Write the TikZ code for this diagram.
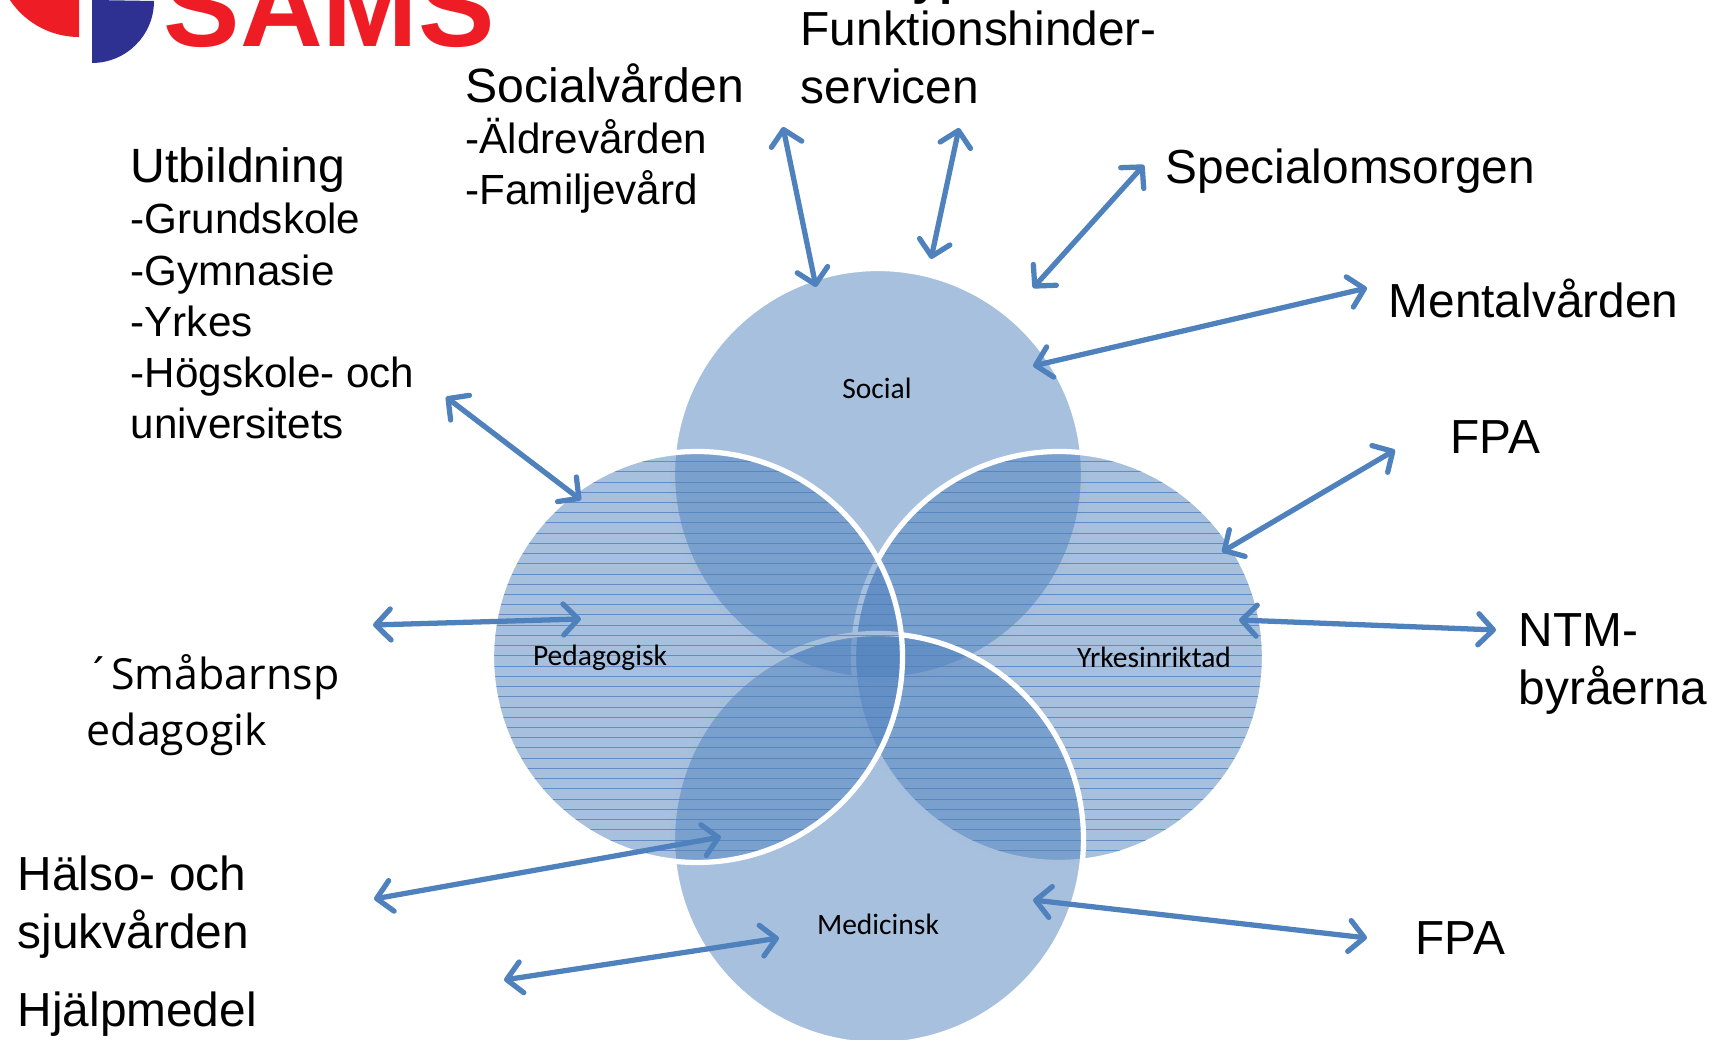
\documentclass[tikz,border=0pt]{standalone}
\usepackage{fontspec}
\setmainfont{Liberation Sans}
\newfontfamily\calfont{Carlito}
\newfontfamily\segfont{Open Sans}
\usetikzlibrary{arrows.meta,calc}
\definecolor{vennblue}{HTML}{4F81BD}
\definecolor{samsred}{HTML}{EE1C25}
\definecolor{samsblue}{HTML}{2E3192}

\begin{document}
\begin{tikzpicture}
\tikzset{venn/.style={circle,draw=white,line width=1.5pt,fill=vennblue,fill opacity=0.5,draw opacity=1,minimum size=4.11cm,inner sep=0pt,outer sep=0pt}}
\tikzset{hatched/.style={path picture={\foreach \n in {0,...,38} \draw[vennblue,line width=0.25pt,draw opacity=0.8] ([yshift={(1.955-0.1023*\n)*1cm}]path picture bounding box.west) -- ([yshift={(1.955-0.1023*\n)*1cm}]path picture bounding box.east);}}}
\tikzset{inlbl/.style={font=\calfont\fontsize{8.4}{9}\selectfont,inner sep=0pt}}
\tikzset{big/.style={font=\fontsize{13.6}{16.6}\selectfont,inner sep=0pt,anchor=base west,align=left}}
\tikzset{lst/.style={font=\fontsize{12}{14.6}\selectfont,inner sep=0pt,anchor=base west,align=left}}
\path[use as bounding box,clip] (0,0) rectangle (17.15,10.40);

% logo
\fill[samsred] (0.79,10.50) -- (0.79,10.03) arc[start angle=270,end angle=200,radius=0.83] -- cycle;
\fill[samsblue] (0.92,10.40) -- (0.92,9.77) arc[start angle=270,end angle=360,radius=0.62] -- cycle;
\node [inner sep=0pt,anchor=base west,text=samsred,font=\bfseries\fontsize{32.6}{36}\selectfont] (sams) at (1.63,9.93) {SAMS};

\node [venn] (social) at (8.78,5.66) {};
\node [venn,hatched] (yrkes) at (10.59,3.83) {};
\node [venn] (medicinsk) at (8.78,2.01) {};
\node [venn,hatched] (pedagogisk) at (6.97,3.83) {};

\node [inlbl] (l1) at (8.77,6.52) {Social};
\node [inlbl] (l2) at (6.00,3.82) {Pedagogisk};
\node [inlbl] (l3) at (11.54,3.83) {Yrkesinriktad};
\node [inlbl] (l4) at (8.78,1.16) {Medicinsk};

\node [big,font=\bfseries\fontsize{13.6}{16.6}\selectfont] (t0) at (9.12,10.45) {yp};
\node [big] (t1) at (8.00,9.36) {Funktionshinder-\\servicen};
\node [lst] (t2) at (4.65,8.35) {\fontsize{13.7}{14.6}\selectfont Socialvården\\-Äldrevården\\-Familjevård};
\node [lst] (t3) at (1.30,6.01) {\fontsize{13.7}{14.6}\selectfont Utbildning\\-Grundskole\\-Gymnasie\\-Yrkes\\-Högskole- och\\universitets};
\node [big] (t4) at (11.65,8.56) {Specialomsorgen};
\node [big] (t5) at (13.88,7.22) {Mentalvården};
\node [big] (t6) at (14.50,5.86) {FPA};
\node [big] (t7) at (15.18,3.35) {NTM-\\byråerna};
\node [big] (t8) at (14.15,0.85) {FPA};
\node [big,font=\segfont\fontsize{12.2}{16.2}\selectfont] (t9) at (0.86,2.94) {´Småbarnsp\\edagogik};
\node [big] (t10) at (0.17,0.91) {Hälso- och\\sjukvården};
\node [big] (t11) at (0.17,0.13) {Hjälpmedel};

\coordinate (a1) at (7.83,9.13);
\coordinate (b1) at (8.16,7.53);
\coordinate (a2) at (9.59,9.12);
\coordinate (b2) at (9.31,7.81);
\coordinate (a3) at (11.44,8.75);
\coordinate (b3) at (10.33,7.52);
\coordinate (a4) at (13.67,7.52);
\coordinate (b4) at (10.33,6.74);
\coordinate (a5) at (13.95,5.90);
\coordinate (b5) at (12.22,4.88);
\coordinate (a6) at (14.96,4.10);
\coordinate (b6) at (12.39,4.20);
\coordinate (a7) at (13.67,1.02);
\coordinate (b7) at (10.33,1.40);
\coordinate (a8) at (3.73,4.15);
\coordinate (b8) at (5.81,4.21);
\coordinate (a9) at (4.46,6.43);
\coordinate (b9) at (5.81,5.40);
\coordinate (a10) at (3.74,1.41);
\coordinate (b10) at (7.21,2.03);
\coordinate (a11) at (5.04,0.60);
\coordinate (b11) at (7.79,1.02);

\begin{scope}[>={Straight Barb[round,length=1.5mm,width=3.1mm]},every edge/.style={draw=vennblue,line width=1.5pt}]
\foreach \i in {1,...,11} \path (a\i) edge[<->] (b\i);
\end{scope}

\end{tikzpicture}
\end{document}
